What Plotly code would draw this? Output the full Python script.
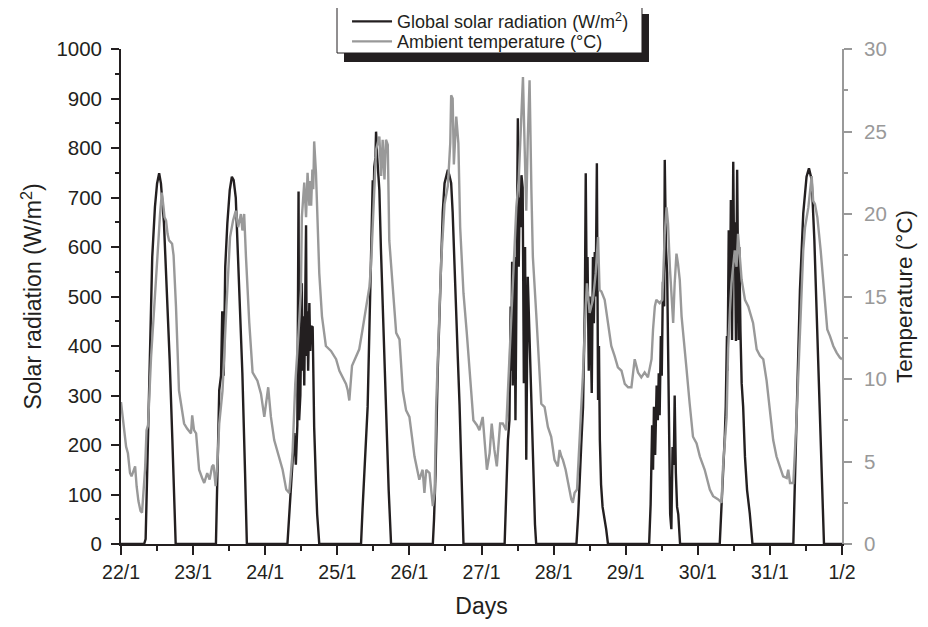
import plotly.graph_objects as go

# ---- Data (hours since 22/1 00:00) ----
day_ticks = [0, 24, 48, 72, 96, 120, 144, 168, 192, 216, 240]
day_labels = ["22/1", "23/1", "24/1", "25/1", "26/1", "27/1", "28/1", "29/1", "30/1", "31/1", "1/2"]

solar_hours = [
    0,
    7.7, 8.2, 8.7, 9.3, 9.8, 10.4, 11.3, 12.0, 12.7, 13.3, 14.3, 14.8, 15.4, 16.2, 17.1, 17.7, 18.2,
    31.6, 32.1, 32.7, 33.3, 33.7, 34.2, 34.7, 35.4, 36.2, 36.9, 37.5, 38.2, 38.8, 39.3, 40.4, 41.3, 41.9,
    55.4, 56.0, 57.1, 57.7, 58.2, 58.7, 59.1, 59.3, 59.7, 60.2, 60.4, 60.7, 61.0, 61.3, 61.6, 61.8, 62.0, 62.3, 62.7, 63.0, 63.3, 63.8, 64.0, 64.3, 64.9, 65.3, 66.0,
    79.9, 80.4, 81.0, 81.6, 81.8, 82.1, 82.3, 82.7, 83.2, 83.8, 84.1, 84.3, 84.7, 84.9, 85.3, 86.0, 86.5, 87.1, 87.7, 88.2, 88.7, 89.1, 89.9,
    103.8, 104.2, 104.7, 105.4, 106.0, 106.6, 107.1, 107.7, 108.8, 109.3, 109.9, 110.4, 111.0, 112.1, 112.7, 113.2, 113.7, 114.0,
    127.7, 128.3, 128.8, 129.3, 129.7, 129.9, 130.2, 130.4, 130.8, 131.0, 131.3, 131.8, 132.1, 132.4, 132.7, 133.0, 133.3, 133.7, 134.1, 134.5, 134.9, 135.4, 136.0, 136.6, 137.0, 137.3, 137.8, 138.2,
    151.6, 152.2, 152.7, 153.2, 153.8, 154.2, 154.4, 154.7, 155.0, 155.3, 155.7, 156.0, 156.3, 156.7, 157.1, 157.4, 157.7, 158.0, 158.4, 158.8, 159.1, 159.4, 159.8, 160.3, 161.0, 161.5, 162.1,
    175.8, 176.3, 176.8, 177.1, 177.4, 177.8, 178.3, 178.7, 179.0, 179.3, 179.7, 180.0, 180.4, 180.8, 181.0, 181.4, 181.8, 182.1, 182.5, 182.8, 183.2, 183.6, 184.0, 184.3, 184.7, 185.1, 185.5, 186.1,
    199.3, 199.8, 200.4, 201.0, 201.3, 201.7, 201.9, 202.3, 202.7, 203.0, 203.4, 203.8, 204.1, 204.3, 204.7, 205.1, 205.6, 205.8, 206.2, 206.6, 207.1, 207.7, 208.4, 209.3, 210.2,
    223.8, 224.3, 224.9, 226.0, 227.1, 228.2, 229.0, 229.9, 230.8, 231.8, 232.3, 232.9, 233.5, 234.0,
    240,
]
solar_wm2 = [
    0,
    0, 10, 130, 277, 430, 580, 681, 728, 749, 728, 648, 580, 479, 372, 210, 100, 0,
    0, 120, 311, 340, 470, 340, 560, 648, 715, 742, 735, 700, 600, 547, 345, 143, 0,
    0, 55, 150, 224, 160, 240, 712, 250, 300, 527, 350, 460, 320, 500, 644, 380, 470, 350, 487, 390, 440, 438, 300, 236, 123, 60, 0,
    0, 70, 143, 210, 240, 277, 330, 446, 547, 735, 700, 762, 780, 833, 780, 715, 600, 479, 380, 277, 180, 109, 0,
    0, 50, 143, 345, 470, 580, 670, 729, 756, 745, 729, 670, 580, 378, 280, 176, 70, 0,
    0, 100, 210, 250, 480, 350, 570, 320, 450, 580, 250, 650, 860, 560, 700, 640, 745, 720, 325, 600, 170, 540, 410, 277, 200, 143, 40, 0,
    0, 60, 143, 200, 277, 400, 480, 749, 520, 580, 350, 500, 440, 305, 580, 446, 590, 500, 769, 291, 400, 210, 120, 75, 50, 30, 0,
    0, 80, 240, 150, 277, 180, 320, 250, 345, 260, 420, 340, 530, 480, 776, 600, 547, 400, 200, 60, 30, 196, 160, 300, 143, 75, 60, 0,
    0, 60, 143, 220, 277, 420, 350, 634, 470, 695, 412, 772, 560, 650, 410, 756, 412, 600, 430, 325, 277, 176, 109, 62, 0,
    0, 120, 277, 513, 668, 742, 759, 736, 614, 412, 300, 210, 90, 0,
    0,
]

temp_hours = [
    0, 0.8, 1.7, 2.3, 3.0, 3.5, 4.2, 4.7, 5.2, 5.8, 6.5, 7.0, 7.5, 8.0, 8.5, 9.0, 10.0, 11.0, 11.7, 12.5, 13.0, 13.6, 14.1, 14.5, 15.0, 15.5, 16.0, 17.0, 17.5, 18.3, 19.3, 20.5, 21.0, 22.0, 23.3, 23.7,
    24.3, 25.0, 26.0, 27.0, 27.7, 28.7, 29.5, 30.3, 30.8, 31.5, 32.1, 32.7, 33.8, 35.1, 36.3, 37.3, 38.2, 39.0, 39.9, 40.4, 41.0, 41.6, 42.7, 43.8, 45.4, 46.6, 47.7,
    49.0, 49.9, 51.0, 52.7, 53.8, 55.0, 56.0, 57.1, 58.0, 59.0, 59.9, 60.2, 61.0, 61.6, 62.1, 62.7, 63.0, 63.3, 63.7, 64.0, 64.3, 64.9, 66.0, 66.9, 68.2, 69.9, 71.6,
    72.7, 73.8, 74.9, 75.5, 76.0, 76.9, 78.2, 79.3, 80.4, 81.6, 82.7, 83.2, 83.8, 84.3, 84.9, 86.0, 86.6, 87.1, 87.7, 88.2, 88.8, 89.3, 90.4, 91.6, 92.7, 93.8, 94.9,
    96.0, 97.7, 99.3, 100.4, 101.0, 101.6, 102.7, 103.8, 104.4, 104.9, 105.4, 106.6, 107.7, 108.8, 109.6, 109.9, 110.4, 110.8, 111.6, 112.3, 112.9, 114.0, 115.1, 116.2, 117.3, 118.5, 119.3,
    120.4, 121.0, 121.8, 122.7, 123.4, 124.3, 125.1, 126.2, 127.1, 128.2, 129.1, 129.9, 130.7, 131.6, 132.4, 133.2, 133.8, 134.3, 134.9, 135.4, 136.0, 136.6, 137.1, 138.2, 139.3, 139.9, 141.0, 142.1, 143.2,
    144.3, 145.4, 146.0, 146.6, 147.1, 148.0, 148.8, 149.9, 150.4, 151.0, 151.8, 152.7, 153.8, 154.7, 155.1, 156.0, 157.1, 158.0, 158.8, 159.3, 159.9, 161.0, 162.1, 163.2, 164.3, 165.4, 166.6, 167.7,
    168.8, 169.9, 171.0, 172.1, 173.2, 174.3, 175.4, 176.6, 177.1, 177.7, 178.2, 179.3, 180.2, 180.4, 181.0, 181.6, 182.1, 182.7, 183.2, 183.8, 184.3, 184.9, 185.4, 186.0, 186.6, 187.7, 188.2, 189.3, 190.4, 191.6,
    192.7, 194.3, 196.0, 197.1, 198.8, 199.9, 200.4, 201.6, 202.1, 202.7, 203.2, 204.3, 204.9, 205.4, 206.0, 206.6, 207.7, 208.8, 210.4, 211.6, 212.7, 213.8, 214.9,
    216.0, 217.1, 218.2, 219.3, 220.4, 221.6, 222.1, 222.7, 223.8, 224.9, 226.0, 227.1, 227.7, 228.8, 229.9, 230.4, 231.0, 231.8, 232.9, 234.0, 235.1, 236.0, 237.1, 238.2, 239.3, 240.0,
]
temp_c = [
    8.6, 7.4, 5.9, 5.5, 4.3, 4.1, 4.5, 4.7, 3.5, 2.6, 2.0, 1.9, 3.2, 4.5, 6.9, 7.2, 11.3, 14.5, 16.4, 18.5, 20.0, 21.3, 20.5, 19.8, 19.6, 18.8, 18.4, 18.2, 17.5, 14.4, 9.3, 7.8, 7.3, 7.0, 6.7, 7.8,
    6.9, 6.7, 4.5, 4.0, 3.7, 4.3, 3.9, 4.7, 4.8, 3.5, 4.9, 7.3, 9.3, 14.4, 18.6, 19.6, 20.2, 19.2, 20.0, 19.0, 20.0, 17.4, 13.4, 10.4, 9.9, 9.1, 7.7,
    9.5, 7.7, 6.3, 5.1, 4.5, 3.3, 3.1, 5.5, 9.7, 12.5, 15.4, 19.8, 21.9, 19.8, 22.5, 20.5, 22.0, 20.5, 22.7, 21.5, 24.4, 22.5, 16.4, 13.8, 12.0, 11.7, 11.2,
    10.5, 10.1, 9.7, 9.3, 8.7, 10.8, 11.3, 11.8, 13.0, 14.4, 15.6, 16.8, 19.2, 22.1, 23.9, 24.7, 22.3, 24.5, 22.1, 24.5, 24.2, 18.4, 15.4, 12.8, 12.4, 9.3, 8.1,
    7.7, 5.3, 3.9, 4.5, 3.1, 4.5, 4.3, 2.3, 3.1, 8.3, 11.2, 17.2, 20.6, 21.7, 24.3, 27.2, 27.0, 23.0, 25.9, 24.3, 19.2, 15.2, 12.8, 9.9, 7.5, 7.2, 6.9,
    7.7, 6.3, 4.5, 5.5, 7.3, 5.7, 4.7, 7.3, 7.3, 6.9, 10.4, 14.4, 17.2, 20.4, 22.1, 25.5, 28.3, 24.5, 20.2, 24.5, 28.1, 21.5, 17.4, 14.0, 10.4, 8.5, 8.3, 7.1, 6.5,
    5.1, 4.7, 5.7, 5.3, 5.1, 4.5, 3.7, 2.7, 2.5, 3.1, 3.3, 6.3, 10.4, 14.4, 15.8, 14.0, 14.8, 16.4, 18.6, 15.4, 15.3, 14.8, 13.4, 12.0, 11.4, 10.7, 10.5, 9.7,
    9.5, 9.5, 11.2, 10.4, 10.1, 10.4, 10.1, 11.2, 13.0, 14.4, 14.8, 14.6, 14.8, 15.8, 18.8, 20.4, 19.4, 16.8, 15.2, 13.4, 15.8, 17.6, 17.0, 16.0, 13.8, 11.4, 10.7, 8.5, 6.5, 6.1,
    5.3, 4.5, 3.3, 2.9, 2.7, 2.5, 4.7, 7.7, 11.8, 14.2, 15.8, 17.8, 16.8, 18.8, 17.2, 16.0, 14.8, 14.4, 13.4, 11.8, 11.4, 11.2, 9.9,
    8.1, 6.3, 5.3, 4.7, 4.1, 4.0, 4.5, 3.7, 3.7, 7.7, 12.8, 17.8, 19.2, 20.4, 22.3, 20.8, 20.6, 19.8, 17.8, 15.4, 13.0, 12.6, 12.0, 11.6, 11.3, 11.2,
]

INK = "#231f20"
GREY = "#999999"
FONT = "Liberation Sans, Arial, sans-serif"

fig = go.Figure()
fig.add_trace(go.Scatter(
    x=solar_hours, y=solar_wm2, mode="lines",
    name="Global solar radiation (W/m<sup>2</sup>)",
    line=dict(color=INK, width=2.4), yaxis="y", xaxis="x", legend="legend",
))
fig.add_trace(go.Scatter(
    x=temp_hours, y=temp_c, mode="lines",
    name="Ambient temperature (°C)",
    line=dict(color=GREY, width=2.4), yaxis="y2", xaxis="x", legend="legend2",
))

# page has an 8px body margin: plot area on page spans x 121..842, y 49..544
leg_common = dict(
    xanchor="left", yanchor="middle", bgcolor="rgba(0,0,0,0)", borderwidth=0,
    font=dict(size=18, color=INK), itemwidth=40,
)

fig.update_layout(
    width=928, height=627,
    margin=dict(l=113, r=94, t=41, b=91, autoexpand=False),
    paper_bgcolor="white", plot_bgcolor="white",
    font=dict(family=FONT, color=INK, size=20),
    showlegend=True,
    legend=dict(x=0.3135, y=1.0552, **leg_common),
    legend2=dict(x=0.3135, y=1.0147, **leg_common),
    xaxis=dict(
        range=[0, 240], tickmode="array", tickvals=day_ticks, ticktext=day_labels,
        ticks="outside", ticklen=9, tickwidth=1.5, tickcolor=INK,
        minor=dict(tickmode="linear", tick0=0, dtick=12, ticks="outside", ticklen=5, tickwidth=1.5, tickcolor=INK),
        showline=True, linecolor=INK, linewidth=1.8, showgrid=False, zeroline=False,
        title=dict(text="Days", font=dict(size=23), standoff=16),
        tickfont=dict(size=19.5), ticklabelstandoff=1, automargin=False,
    ),
    xaxis2=dict(
        range=[0, 240], overlaying="x", side="top", tickmode="linear", tick0=0, dtick=12,
        ticks="inside", ticklen=6, tickwidth=1.5, tickcolor=INK,
        showticklabels=False, showline=True, linecolor=INK, linewidth=1.8,
        showgrid=False, zeroline=False, automargin=False,
    ),
    yaxis=dict(
        range=[0, 1000], tickmode="linear", tick0=0, dtick=100,
        ticks="outside", ticklen=8, tickwidth=1.5, tickcolor=INK,
        minor=dict(tickmode="linear", tick0=0, dtick=50, ticks="outside", ticklen=4, tickwidth=1.5, tickcolor=INK),
        showline=True, linecolor=INK, linewidth=1.8, showgrid=False, zeroline=False,
        title=dict(text="Solar radiation (W/m<sup>2</sup>)", font=dict(size=23), standoff=8),
        tickfont=dict(size=20.5), ticklabelstandoff=5, automargin=False,
    ),
    yaxis2=dict(
        range=[0, 30], overlaying="y", side="right", tickmode="linear", tick0=0, dtick=5,
        ticks="outside", ticklen=8, tickwidth=1.5, tickcolor=GREY,
        minor=dict(tickmode="linear", tick0=0, dtick=2.5, ticks="outside", ticklen=4, tickwidth=1.5, tickcolor=GREY),
        showline=True, linecolor=GREY, linewidth=1.8, showgrid=False, zeroline=False,
        title=dict(text="Temperature (°C)", font=dict(size=22.5, color=INK), standoff=10),
        tickfont=dict(size=20.5, color=GREY), ticklabelstandoff=8, automargin=False,
    ),
    shapes=[
        # legend drop shadow
        dict(type="rect", xref="paper", yref="paper",
             x0=0.3093, x1=0.7323, y0=0.9737, y1=1.0707,
             fillcolor=INK, line=dict(width=0), layer="above"),
        # legend frame
        dict(type="rect", xref="paper", yref="paper",
             x0=0.2996, x1=0.7226, y0=0.9919, y1=1.0869,
             fillcolor="white", line=dict(color=INK, width=1), layer="above"),
    ],
)

fig.write_html("out.html")
